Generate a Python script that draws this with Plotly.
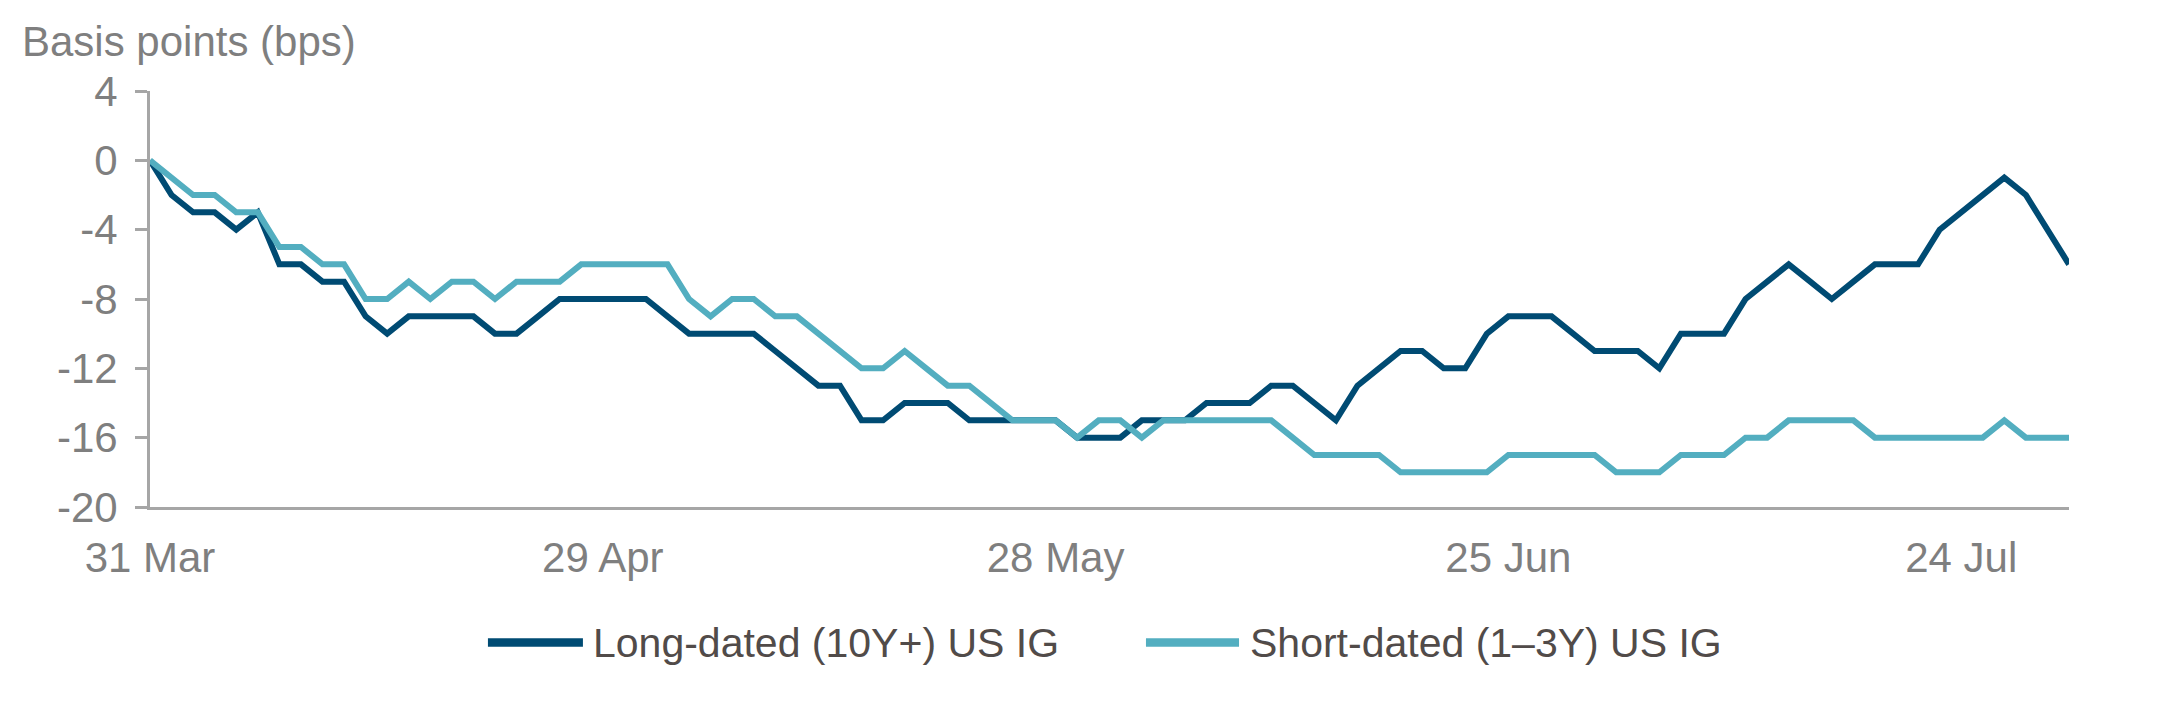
import plotly.graph_objects as go

# Cumulative change since 31 Mar, business days, in bps
long_dated = [0, -2, -3, -3, -4, -3, -6, -6, -7, -7,
              -9, -10, -9, -9, -9, -9, -10, -10, -9, -8,
              -8, -8, -8, -8, -9, -10, -10, -10, -10, -11,
              -12, -13, -13, -15, -15, -14, -14, -14, -15, -15,
              -15, -15, -15, -16, -16, -16, -15, -15, -15, -14,
              -14, -14, -13, -13, -14, -15, -13, -12, -11, -11,
              -12, -12, -10, -9, -9, -9, -10, -11, -11, -11,
              -12, -10, -10, -10, -8, -7, -6, -7, -8, -7,
              -6, -6, -6, -4, -3, -2, -1, -2, -4, -6]
short_dated = [0, -1, -2, -2, -3, -3, -5, -5, -6, -6,
               -8, -8, -7, -8, -7, -7, -8, -7, -7, -7,
               -6, -6, -6, -6, -6, -8, -9, -8, -8, -9,
               -9, -10, -11, -12, -12, -11, -12, -13, -13, -14,
               -15, -15, -15, -16, -15, -15, -16, -15, -15, -15,
               -15, -15, -15, -16, -17, -17, -17, -17, -18, -18,
               -18, -18, -18, -17, -17, -17, -17, -17, -18, -18,
               -18, -17, -17, -17, -16, -16, -15, -15, -15, -15,
               -16, -16, -16, -16, -16, -16, -15, -16, -16, -16]

x_tick_pos = [0, 21, 42, 63, 84]
x_tick_labels = ["31 Mar", "29 Apr", "28 May", "25 Jun", "24 Jul"]
y_ticks = [4, 0, -4, -8, -12, -16, -20]
y_tick_labels = ["4", "0", "-4", "-8", "-12", "-16", "-20"]

series_names = ["Long-dated (10Y+) US IG", "Short-dated (1–3Y) US IG"]
series_colors = ["#004b73", "#53aec0"]

AXIS_GREY = "#a6a6a6"
TEXT_GREY = "#7f7f7f"
LEGEND_TEXT = "#514b49"
FONT = "Liberation Sans, Arial, sans-serif"

x_idx = list(range(len(long_dated)))

fig = go.Figure()
for name, vals, col in zip(series_names, [long_dated, short_dated], series_colors):
    fig.add_trace(go.Scatter(
        x=x_idx, y=vals, mode="lines", name=name,
        line=dict(color=col, width=6),
        showlegend=False,
    ))

# legend drawn by hand so the sample lines are as long as in the original
legend_items = [(0.1761, 0.2256, 0.2298), (0.5190, 0.5675, 0.5722)]
for (x0, x1, xt), name, col in zip(legend_items, series_names, series_colors):
    fig.add_shape(type="line", xref="paper", yref="paper",
                  x0=x0, x1=x1, y0=-0.326, y1=-0.326,
                  line=dict(color=col, width=8.5))
    fig.add_annotation(xref="paper", yref="paper", x=xt, y=-0.326,
                       xanchor="left", yanchor="middle", showarrow=False,
                       text=name, font=dict(size=41, color=LEGEND_TEXT, family=FONT))

fig.add_annotation(xref="paper", yref="paper", x=-0.068, y=1.12,
                   xanchor="left", yanchor="middle", showarrow=False,
                   text="Basis points (bps)",
                   font=dict(size=42, color=TEXT_GREY, family=FONT))

# page body adds 8px, so the figure is 8px smaller than the window
fig.update_layout(
    width=2162, height=701,
    margin=dict(l=142, r=101, t=83, b=202),
    paper_bgcolor="white", plot_bgcolor="white",
    font=dict(family=FONT, size=42, color=TEXT_GREY),
)
fig.update_xaxes(
    range=[0, 89], tickmode="array", tickvals=x_tick_pos, ticktext=x_tick_labels,
    showgrid=False, zeroline=False, showline=True, linecolor=AXIS_GREY, linewidth=3,
    ticks="", ticklabelstandoff=12, tickfont=dict(size=42, color=TEXT_GREY),
)
fig.update_yaxes(
    range=[-20, 4], tickmode="array", tickvals=y_ticks, ticktext=y_tick_labels,
    showgrid=False, zeroline=False, showline=True, linecolor=AXIS_GREY, linewidth=3,
    ticks="outside", ticklen=12, tickwidth=3, tickcolor=AXIS_GREY,
    ticklabelstandoff=9, tickfont=dict(size=42, color=TEXT_GREY),
)

fig.write_html("out.html")
